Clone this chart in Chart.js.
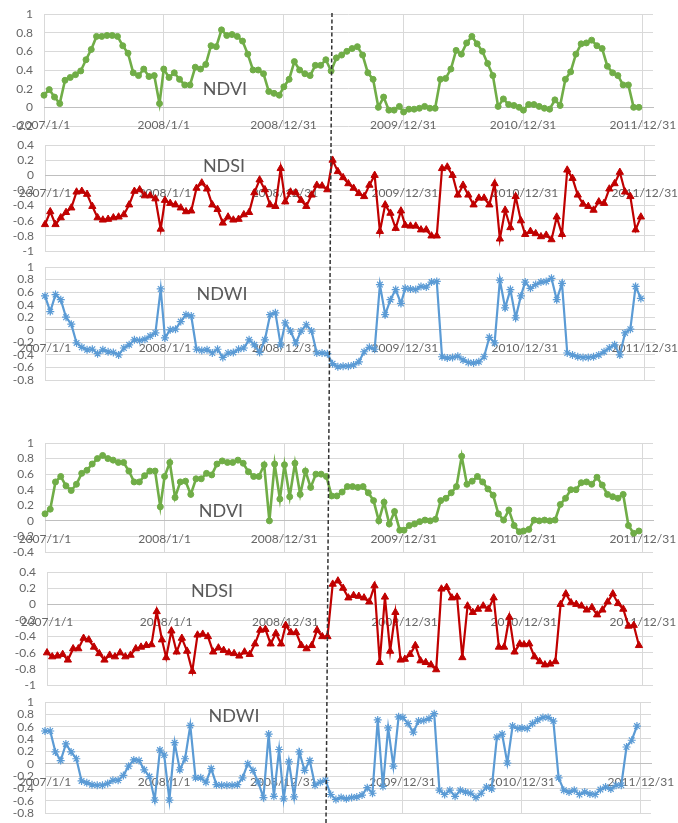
<!DOCTYPE html>
<html>
<head>
<meta charset="utf-8">
<script src="https://cdn.jsdelivr.net/npm/chart.js@4.4.1/dist/chart.umd.min.js"></script>
<style>
  html, body { margin: 0; padding: 0; background: #fff; }
  #wrap { position: relative; width: 678px; height: 823px; overflow: hidden; }
  #wrap canvas { position: absolute; left: 0; }
  #cut { position: absolute; left: 0; top: 0; pointer-events: none; }
</style>
</head>
<body>
<div id="wrap">
  <canvas id="c1"></canvas>
  <canvas id="c2"></canvas>
  <canvas id="c3"></canvas>
  <canvas id="c4"></canvas>
  <canvas id="c5"></canvas>
  <canvas id="c6"></canvas>
  <svg id="cut" width="678" height="823">
    <line x1="332" y1="13" x2="326" y2="823" stroke="#333" stroke-width="1.5" stroke-dasharray="4 2.5"/>
  </svg>
</div>
<script>
// 16-day composites, 23 per year
const years = [2007, 2008, 2009, 2010, 2011];
const compositeDoy = [1, 17, 33, 49, 65, 81, 97, 113, 129, 145, 161, 177, 193, 209, 225, 241, 257, 273, 289, 305, 321, 337, 353];
const tickDays = [0, 365, 730, 1095, 1460, 1825];
const tickLabels = ['2007/1/1', '2008/1/1', '2008/12/31', '2009/12/31', '2010/12/31', '2011/12/31'];

// upper group
const ndviUpper = [
  0.13, 0.19, 0.11, 0.04, 0.29, 0.32, 0.35, 0.39, 0.51, 0.62, 0.76, 0.76, 0.77, 0.77, 0.76, 0.66, 0.58, 0.37, 0.34, 0.41, 0.33, 0.34, 0.04,
  0.41, 0.32, 0.37, 0.30, 0.24, 0.24, 0.43, 0.41, 0.46, 0.66, 0.65, 0.83, 0.77, 0.78, 0.76, 0.71, 0.57, 0.40, 0.40, 0.36, 0.17, 0.15, 0.13,
  0.22, 0.30, 0.49, 0.40, 0.36, 0.34, 0.45, 0.45, 0.51, 0.39, 0.53, 0.56, 0.60, 0.63, 0.65, 0.56, 0.37, 0.30, 0.00, 0.11, -0.03, -0.03, 0.01,
  -0.05, -0.02, -0.02, -0.01, 0.01, -0.01, -0.01, 0.30, 0.31, 0.41, 0.61, 0.57, 0.69, 0.76, 0.68, 0.60, 0.47, 0.34, 0.01, 0.09, 0.03, 0.02, 0.00,
  -0.03, 0.03, 0.03, 0.01, -0.01, -0.02, 0.08, 0.02, 0.30, 0.38, 0.57, 0.68, 0.69, 0.72, 0.66, 0.63, 0.44, 0.37, 0.34, 0.24, 0.24, 0.00, 0.00
];
const ndsiUpper = [
  -0.65, -0.48, -0.65, -0.56, -0.49, -0.43, -0.22, -0.21, -0.25, -0.41, -0.56, -0.59, -0.58, -0.56, -0.55, -0.52, -0.39, -0.21, -0.19, -0.27, -0.27, -0.31, -0.71,
  -0.33, -0.37, -0.39, -0.43, -0.48, -0.47, -0.17, -0.10, -0.18, -0.39, -0.45, -0.63, -0.55, -0.59, -0.58, -0.52, -0.49, -0.23, -0.06, -0.19, -0.39, -0.41, 0.09,
  -0.35, -0.22, -0.23, -0.33, -0.41, -0.26, -0.13, -0.14, -0.19, 0.20, 0.05, -0.03, -0.11, -0.17, -0.24, -0.28, -0.13, 0.00, -0.74, -0.39, -0.50, -0.70, -0.47,
  -0.66, -0.67, -0.67, -0.72, -0.72, -0.80, -0.80, 0.09, 0.11, 0.00, -0.26, -0.13, -0.26, -0.39, -0.30, -0.30, -0.39, -0.11, -0.84, -0.46, -0.69, -0.28, -0.60,
  -0.78, -0.74, -0.77, -0.81, -0.79, -0.85, -0.55, -0.78, 0.07, -0.04, -0.26, -0.38, -0.41, -0.46, -0.35, -0.37, -0.18, -0.11, 0.04, -0.22, -0.28, -0.72, -0.55
];
const ndwiUpper = [
  0.54, 0.29, 0.56, 0.48, 0.20, 0.09, -0.21, -0.28, -0.32, -0.31, -0.38, -0.32, -0.35, -0.36, -0.40, -0.29, -0.24, -0.16, -0.17, -0.15, -0.10, -0.05, 0.65,
  -0.13, 0.00, 0.01, 0.13, 0.24, 0.22, -0.31, -0.33, -0.32, -0.37, -0.31, -0.44, -0.37, -0.36, -0.31, -0.29, -0.16, -0.24, -0.36, -0.16, 0.24, 0.27, -0.24,
  0.11, -0.02, -0.21, -0.02, 0.08, -0.02, -0.37, -0.37, -0.38, -0.54, -0.59, -0.58, -0.58, -0.56, -0.51, -0.35, -0.28, -0.31, 0.72, 0.24, 0.48, 0.64, 0.42,
  0.66, 0.65, 0.64, 0.69, 0.68, 0.76, 0.77, -0.43, -0.45, -0.44, -0.42, -0.48, -0.52, -0.53, -0.51, -0.43, -0.12, -0.21, 0.79, 0.35, 0.64, 0.19, 0.54,
  0.76, 0.66, 0.72, 0.76, 0.77, 0.82, 0.48, 0.74, -0.37, -0.40, -0.43, -0.44, -0.44, -0.43, -0.40, -0.35, -0.29, -0.24, -0.40, -0.05, 0.01, 0.69, 0.50
];

// lower group
const ndviLower = [
  0.09, 0.15, 0.50, 0.57, 0.45, 0.39, 0.47, 0.61, 0.65, 0.73, 0.80, 0.84, 0.80, 0.78, 0.75, 0.75, 0.64, 0.50, 0.50, 0.58, 0.64, 0.64, 0.18,
  0.57, 0.75, 0.30, 0.50, 0.51, 0.34, 0.54, 0.54, 0.61, 0.59, 0.73, 0.77, 0.75, 0.75, 0.78, 0.74, 0.63, 0.57, 0.57, 0.72, 0.00, 0.73, 0.28,
  0.72, 0.31, 0.74, 0.34, 0.64, 0.43, 0.60, 0.60, 0.57, 0.32, 0.32, 0.37, 0.44, 0.44, 0.43, 0.44, 0.36, 0.26, 0.00, 0.24, -0.04, 0.12, -0.12,
  -0.12, -0.06, -0.04, -0.01, 0.01, 0.00, 0.02, 0.26, 0.29, 0.36, 0.44, 0.83, 0.47, 0.51, 0.57, 0.50, 0.41, 0.33, 0.09, 0.01, 0.14, -0.06, -0.14,
  -0.13, -0.11, 0.01, 0.00, 0.01, 0.00, 0.01, 0.21, 0.29, 0.40, 0.40, 0.49, 0.50, 0.47, 0.56, 0.46, 0.34, 0.31, 0.29, 0.34, -0.06, -0.16, -0.13
];
const ndsiLower = [
  -0.60, -0.65, -0.64, -0.62, -0.69, -0.55, -0.55, -0.42, -0.44, -0.53, -0.61, -0.69, -0.63, -0.65, -0.60, -0.65, -0.63, -0.55, -0.53, -0.51, -0.50, -0.09, -0.44,
  -0.66, -0.33, -0.59, -0.42, -0.58, -0.83, -0.38, -0.37, -0.40, -0.59, -0.54, -0.57, -0.60, -0.61, -0.64, -0.59, -0.62, -0.49, -0.32, -0.31, -0.49, -0.36, -0.49,
  -0.26, -0.35, -0.35, -0.51, -0.55, -0.51, -0.32, -0.40, -0.40, 0.25, 0.29, 0.20, 0.08, 0.11, 0.10, 0.08, 0.03, 0.23, -0.72, 0.09, -0.58, -0.10, -0.69,
  -0.68, -0.62, -0.51, -0.70, -0.72, -0.75, -0.81, 0.19, 0.21, 0.08, 0.09, -0.66, -0.02, -0.10, -0.06, -0.02, -0.06, 0.08, -0.53, -0.53, -0.16, -0.59, -0.49,
  -0.50, -0.49, -0.65, -0.71, -0.75, -0.74, -0.71, 0.00, 0.13, 0.02, 0.00, -0.02, -0.07, -0.04, -0.13, -0.07, 0.03, 0.13, 0.01, -0.06, -0.27, -0.26, -0.51
];
const ndwiLower = [
  0.53, 0.53, 0.19, 0.05, 0.32, 0.19, 0.08, -0.28, -0.31, -0.34, -0.35, -0.35, -0.32, -0.27, -0.27, -0.19, -0.04, 0.06, 0.05, -0.10, -0.21, -0.59, 0.22,
  0.14, -0.59, 0.34, -0.10, 0.08, 0.62, -0.23, -0.23, -0.30, -0.08, -0.34, -0.35, -0.35, -0.35, -0.34, -0.23, 0.00, -0.11, -0.30, -0.55, 0.48, -0.53, 0.23,
  -0.57, 0.03, -0.54, 0.19, -0.11, 0.05, -0.35, -0.30, -0.27, -0.50, -0.58, -0.55, -0.57, -0.55, -0.54, -0.51, -0.39, -0.48, 0.71, -0.37, 0.58, -0.04, 0.76,
  0.75, 0.65, 0.51, 0.69, 0.70, 0.73, 0.81, -0.43, -0.50, -0.43, -0.53, -0.43, -0.46, -0.48, -0.55, -0.48, -0.38, -0.41, 0.43, 0.48, 0.01, 0.61, 0.57,
  0.58, 0.57, 0.65, 0.71, 0.75, 0.75, 0.69, -0.23, -0.43, -0.46, -0.43, -0.50, -0.46, -0.49, -0.50, -0.42, -0.38, -0.41, -0.35, -0.35, 0.27, 0.38, 0.61
];

// days since 2007/1/1 for every composite
const DAY = 86400000;
const start = Date.UTC(2007, 0, 1);
const dayOffsets = [];
years.forEach(y => compositeDoy.forEach(d => dayOffsets.push((Date.UTC(y, 0, d) - start) / DAY)));

const looks = {
  NDVI: { color: '#70ad47', pointStyle: 'circle', radius: 3, width: 2.6, pointWidth: 1 },
  NDSI: { color: '#c00000', pointStyle: 'triangle', radius: 4.2, width: 2.2, pointWidth: 1 },
  NDWI: { color: '#5b9bd5', pointStyle: 'star', radius: 4, width: 2.2, pointWidth: 1.2 }
};

// plot boxes on the page (px)
const panels = [
  { id: 'c1', name: 'NDVI', values: ndviUpper, top: 14, bottom: 126, left: 44, right: 653, min: -0.2, max: 1, label: [225, 89] },
  { id: 'c2', name: 'NDSI', values: ndsiUpper, top: 145, bottom: 251, left: 45, right: 655, min: -1, max: 0.4, label: [224, 166] },
  { id: 'c3', name: 'NDWI', values: ndwiUpper, top: 267, bottom: 380, left: 45, right: 655, min: -0.8, max: 1, label: [222, 294] },
  { id: 'c4', name: 'NDVI', values: ndviLower, top: 443, bottom: 552, left: 45, right: 653, min: -0.4, max: 1, label: [221, 511] },
  { id: 'c5', name: 'NDSI', values: ndsiLower, top: 572, bottom: 685, left: 47, right: 653, min: -1, max: 0.4, label: [212, 591] },
  { id: 'c6', name: 'NDWI', values: ndwiLower, top: 702, bottom: 813, left: 45, right: 651, min: -0.8, max: 1, label: [234, 716] }
];

const PAD = 12;
const FONT = 'Lato, "Open Sans", sans-serif';

const panelTitle = {
  id: 'panelTitle',
  afterDatasetsDraw(chart, args, opts) {
    const ctx = chart.ctx;
    ctx.save();
    ctx.font = '18px ' + FONT;
    ctx.fillStyle = '#595959';
    ctx.textAlign = 'center';
    ctx.textBaseline = 'middle';
    ctx.fillText(opts.text, opts.x, opts.y);
    ctx.restore();
  }
};

panels.forEach(p => {
  const canvas = document.getElementById(p.id);
  const h = p.bottom - p.top + PAD * 2;
  canvas.width = 678;
  canvas.height = h;
  canvas.style.top = (p.top - PAD) + 'px';
  const look = looks[p.name];

  new Chart(canvas, {
    type: 'line',
    data: {
      datasets: [{
        data: p.values.map((v, i) => ({ x: dayOffsets[i], y: v })),
        borderColor: look.color,
        backgroundColor: look.color,
        borderWidth: look.width,
        pointStyle: look.pointStyle,
        pointRadius: look.radius,
        pointBorderWidth: look.pointWidth,
        pointBackgroundColor: look.color,
        pointBorderColor: look.color,
        tension: 0,
        clip: false
      }]
    },
    options: {
      responsive: false,
      animation: false,
      events: [],
      layout: { padding: { top: PAD, bottom: PAD, left: 0, right: 678 - p.right } },
      plugins: {
        legend: { display: false },
        tooltip: { enabled: false },
        panelTitle: { text: p.name, x: p.label[0], y: p.label[1] - (p.top - PAD) }
      },
      scales: {
        x: {
          type: 'linear',
          min: 0,
          max: 1856,
          position: { y: 0 },
          afterBuildTicks: s => { s.ticks = tickDays.map(v => ({ value: v })); },
          afterFit: s => { s.paddingLeft = 0; s.paddingRight = 0; },
          grid: { color: '#d9d9d9', lineWidth: 1, drawTicks: false },
          border: { display: true, color: '#bfbfbf', width: 1 },
          ticks: {
            autoSkip: false,
            maxRotation: 0,
            padding: 11,
            color: '#666',
            font: { family: FONT, size: 12 },
            callback: (v, i) => tickLabels[i]
          }
        },
        y: {
          min: p.min,
          max: p.max,
          afterFit: s => { s.width = p.left; s.paddingTop = 0; s.paddingBottom = 0; },
          grid: { color: '#d9d9d9', lineWidth: 1, drawTicks: false },
          border: { display: false },
          ticks: {
            stepSize: 0.2,
            autoSkip: false,
            padding: 11,
            color: '#666',
            font: { family: FONT, size: 12 },
            callback: v => String(Math.round(v * 10) / 10)
          }
        }
      }
    },
    plugins: [panelTitle]
  });
});
</script>
</body>
</html>
